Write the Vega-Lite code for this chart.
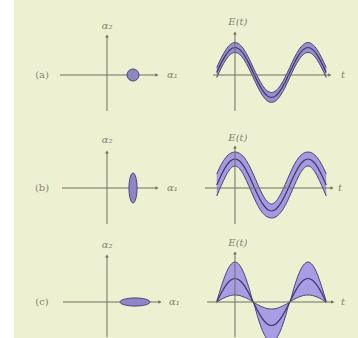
{
"$schema": "https://vega.github.io/schema/vega-lite/v6.json",
"background": "white",
"padding": {"left": 14, "top": 0, "right": 0, "bottom": 0},
"spacing": 0,
"bounds": "full",
"config": {
  "view": {"fill": "#eef0d2", "stroke": null},
  "concat": {"spacing": 0},
  "text": {"font": "DejaVu Serif", "fontStyle": "italic", "fontSize": 10, "color": "#858572"},
  "rule": {"color": "#707062", "strokeWidth": 1},
  "point": {"filled": true, "color": "#707062", "opacity": 1}
},
"data": {"values": [{}]},
"datasets": {
  "states": [
    {"row": "a", "a1": 1.3, "a2": 0},
    {"row": "b", "a1": 1.3, "a2": 0},
    {"row": "c", "a1": 1.4, "a2": 0}
  ],
  "waves": [
    {"row":"a","t":-0.25,"E":0.25,"lo":-0.25,"hi":0.75},
    {"row":"a","t":-0.1875,"E":1.21,"lo":0.71,"hi":1.71},
    {"row":"a","t":-0.125,"E":2.02,"lo":1.52,"hi":2.52},
    {"row":"a","t":-0.0625,"E":2.56,"lo":2.06,"hi":3.06},
    {"row":"a","t":0,"E":2.75,"lo":2.25,"hi":3.25},
    {"row":"a","t":0.0625,"E":2.56,"lo":2.06,"hi":3.06},
    {"row":"a","t":0.125,"E":2.02,"lo":1.52,"hi":2.52},
    {"row":"a","t":0.1875,"E":1.21,"lo":0.71,"hi":1.71},
    {"row":"a","t":0.25,"E":0.25,"lo":-0.25,"hi":0.75},
    {"row":"a","t":0.3125,"E":-0.71,"lo":-1.21,"hi":-0.21},
    {"row":"a","t":0.375,"E":-1.52,"lo":-2.02,"hi":-1.02},
    {"row":"a","t":0.4375,"E":-2.06,"lo":-2.56,"hi":-1.56},
    {"row":"a","t":0.5,"E":-2.25,"lo":-2.75,"hi":-1.75},
    {"row":"a","t":0.5625,"E":-2.06,"lo":-2.56,"hi":-1.56},
    {"row":"a","t":0.625,"E":-1.52,"lo":-2.02,"hi":-1.02},
    {"row":"a","t":0.6875,"E":-0.71,"lo":-1.21,"hi":-0.21},
    {"row":"a","t":0.75,"E":0.25,"lo":-0.25,"hi":0.75},
    {"row":"a","t":0.8125,"E":1.21,"lo":0.71,"hi":1.71},
    {"row":"a","t":0.875,"E":2.02,"lo":1.52,"hi":2.52},
    {"row":"a","t":0.9375,"E":2.56,"lo":2.06,"hi":3.06},
    {"row":"a","t":1,"E":2.75,"lo":2.25,"hi":3.25},
    {"row":"a","t":1.0625,"E":2.56,"lo":2.06,"hi":3.06},
    {"row":"a","t":1.125,"E":2.02,"lo":1.52,"hi":2.52},
    {"row":"a","t":1.1875,"E":1.21,"lo":0.71,"hi":1.71},
    {"row":"a","t":1.25,"E":0.25,"lo":-0.25,"hi":0.75},
    {"row":"b","t":-0.25,"E":0.3,"lo":-0.8,"hi":1.4},
    {"row":"b","t":-0.1875,"E":1.3,"lo":0.25,"hi":2.35},
    {"row":"b","t":-0.125,"E":2.14,"lo":1.22,"hi":3.06},
    {"row":"b","t":-0.0625,"E":2.7,"lo":1.93,"hi":3.47},
    {"row":"b","t":0,"E":2.9,"lo":2.2,"hi":3.6},
    {"row":"b","t":0.0625,"E":2.7,"lo":1.93,"hi":3.47},
    {"row":"b","t":0.125,"E":2.14,"lo":1.22,"hi":3.06},
    {"row":"b","t":0.1875,"E":1.3,"lo":0.25,"hi":2.35},
    {"row":"b","t":0.25,"E":0.3,"lo":-0.8,"hi":1.4},
    {"row":"b","t":0.3125,"E":-0.7,"lo":-1.75,"hi":0.35},
    {"row":"b","t":0.375,"E":-1.54,"lo":-2.46,"hi":-0.62},
    {"row":"b","t":0.4375,"E":-2.1,"lo":-2.87,"hi":-1.33},
    {"row":"b","t":0.5,"E":-2.3,"lo":-3.0,"hi":-1.6},
    {"row":"b","t":0.5625,"E":-2.1,"lo":-2.87,"hi":-1.33},
    {"row":"b","t":0.625,"E":-1.54,"lo":-2.46,"hi":-0.62},
    {"row":"b","t":0.6875,"E":-0.7,"lo":-1.75,"hi":0.35},
    {"row":"b","t":0.75,"E":0.3,"lo":-0.8,"hi":1.4},
    {"row":"b","t":0.8125,"E":1.3,"lo":0.25,"hi":2.35},
    {"row":"b","t":0.875,"E":2.14,"lo":1.22,"hi":3.06},
    {"row":"b","t":0.9375,"E":2.7,"lo":1.93,"hi":3.47},
    {"row":"b","t":1,"E":2.9,"lo":2.2,"hi":3.6},
    {"row":"b","t":1.0625,"E":2.7,"lo":1.93,"hi":3.47},
    {"row":"b","t":1.125,"E":2.14,"lo":1.22,"hi":3.06},
    {"row":"b","t":1.1875,"E":1.3,"lo":0.25,"hi":2.35},
    {"row":"b","t":1.25,"E":0.3,"lo":-0.8,"hi":1.4},
    {"row":"c","t":-0.25,"E":0,"lo":-0.05,"hi":0.05},
    {"row":"c","t":-0.1875,"E":0.9,"lo":0.27,"hi":1.53},
    {"row":"c","t":-0.125,"E":1.66,"lo":0.49,"hi":2.83},
    {"row":"c","t":-0.0625,"E":2.17,"lo":0.65,"hi":3.69},
    {"row":"c","t":0,"E":2.35,"lo":0.7,"hi":4.0},
    {"row":"c","t":0.0625,"E":2.17,"lo":0.65,"hi":3.69},
    {"row":"c","t":0.125,"E":1.66,"lo":0.49,"hi":2.83},
    {"row":"c","t":0.1875,"E":0.9,"lo":0.27,"hi":1.53},
    {"row":"c","t":0.25,"E":0,"lo":-0.05,"hi":0.05},
    {"row":"c","t":0.3125,"E":-0.9,"lo":-1.53,"hi":-0.27},
    {"row":"c","t":0.375,"E":-1.66,"lo":-2.83,"hi":-0.49},
    {"row":"c","t":0.4375,"E":-2.17,"lo":-3.69,"hi":-0.65},
    {"row":"c","t":0.5,"E":-2.35,"lo":-4.0,"hi":-0.7},
    {"row":"c","t":0.5625,"E":-2.17,"lo":-3.69,"hi":-0.65},
    {"row":"c","t":0.625,"E":-1.66,"lo":-2.83,"hi":-0.49},
    {"row":"c","t":0.6875,"E":-0.9,"lo":-1.53,"hi":-0.27},
    {"row":"c","t":0.75,"E":0,"lo":-0.05,"hi":0.05},
    {"row":"c","t":0.8125,"E":0.9,"lo":0.27,"hi":1.53},
    {"row":"c","t":0.875,"E":1.66,"lo":0.49,"hi":2.83},
    {"row":"c","t":0.9375,"E":2.17,"lo":0.65,"hi":3.69},
    {"row":"c","t":1,"E":2.35,"lo":0.7,"hi":4.0},
    {"row":"c","t":1.0625,"E":2.17,"lo":0.65,"hi":3.69},
    {"row":"c","t":1.125,"E":1.66,"lo":0.49,"hi":2.83},
    {"row":"c","t":1.1875,"E":0.9,"lo":0.27,"hi":1.53},
    {"row":"c","t":1.25,"E":0,"lo":-0.05,"hi":0.05}
  ]
},
"vconcat": [
 {"spacing": 0, "bounds": "flush", "hconcat": [
  {"width": 166, "height": 112, "layer": [
   {"mark": "rule", "encoding": {
     "x": {"datum": -2.35, "type": "quantitative", "scale": {"domain": [-4.65, 3.65], "nice": false, "zero": false}, "axis": null},
     "x2": {"datum": 2.5},
     "y": {"datum": 0, "type": "quantitative", "scale": {"domain": [-1.85, 3.75], "nice": false, "zero": false}, "axis": null}}},
   {"mark": "rule", "encoding": {
     "x": {"datum": 0, "type": "quantitative", "scale": {"domain": [-4.65, 3.65], "nice": false, "zero": false}, "axis": null},
     "y": {"datum": 1.95, "type": "quantitative", "scale": {"domain": [-1.85, 3.75], "nice": false, "zero": false}, "axis": null},
     "y2": {"datum": -1.8}}},
   {"mark": {"type": "point", "shape": "triangle-right", "size": 14}, "encoding": {
     "x": {"datum": 2.5, "type": "quantitative", "scale": {"domain": [-4.65, 3.65], "nice": false, "zero": false}, "axis": null},
     "y": {"datum": 0, "type": "quantitative", "scale": {"domain": [-1.85, 3.75], "nice": false, "zero": false}, "axis": null}}},
   {"mark": {"type": "point", "shape": "triangle-up", "size": 14}, "encoding": {
     "x": {"datum": 0, "type": "quantitative", "scale": {"domain": [-4.65, 3.65], "nice": false, "zero": false}, "axis": null},
     "y": {"datum": 1.95, "type": "quantitative", "scale": {"domain": [-1.85, 3.75], "nice": false, "zero": false}, "axis": null}}},
   {"data": {"name": "states"}, "transform": [{"filter": "datum.row === 'a'"}],
    "mark": {"type": "point", "shape": "circle", "size": 144, "filled": true, "fill": "#8c87bd", "stroke": "#4a4578", "strokeWidth": 1},
    "encoding": {
     "x": {"field": "a1", "type": "quantitative", "scale": {"domain": [-4.65, 3.65], "nice": false, "zero": false}, "axis": null},
     "y": {"field": "a2", "type": "quantitative", "scale": {"domain": [-1.85, 3.75], "nice": false, "zero": false}, "axis": null}}},
   {"mark": {"type": "text", "align": "left", "baseline": "middle", "text": "α₁"}, "encoding": {
     "x": {"datum": 3.0, "type": "quantitative", "scale": {"domain": [-4.65, 3.65], "nice": false, "zero": false}, "axis": null},
     "y": {"datum": 0, "type": "quantitative", "scale": {"domain": [-1.85, 3.75], "nice": false, "zero": false}, "axis": null}}},
   {"mark": {"type": "text", "align": "center", "baseline": "middle", "text": "α₂"}, "encoding": {
     "x": {"datum": 0, "type": "quantitative", "scale": {"domain": [-4.65, 3.65], "nice": false, "zero": false}, "axis": null},
     "y": {"datum": 2.45, "type": "quantitative", "scale": {"domain": [-1.85, 3.75], "nice": false, "zero": false}, "axis": null}}},
   {"mark": {"type": "text", "align": "center", "baseline": "middle", "text": "(a)", "fontStyle": "normal"}, "encoding": {
     "x": {"datum": -3.25, "type": "quantitative", "scale": {"domain": [-4.65, 3.65], "nice": false, "zero": false}, "axis": null},
     "y": {"datum": 0, "type": "quantitative", "scale": {"domain": [-1.85, 3.75], "nice": false, "zero": false}, "axis": null}}}
  ]},
  {"width": 178, "height": 112, "layer": [
   {"data": {"name": "waves"}, "transform": [{"filter": "datum.row === 'a'"}],
    "mark": {"type": "area", "interpolate": "monotone", "fill": "#968fcb", "opacity": 1, "clip": true},
    "encoding": {
     "x": {"field": "t", "type": "quantitative", "scale": {"domain": [-0.753, 1.685], "nice": false, "zero": false}, "axis": null},
     "y": {"field": "lo", "type": "quantitative", "scale": {"domain": [-3.7, 7.5], "nice": false, "zero": false}, "axis": null},
     "y2": {"field": "hi"}}},
   {"data": {"name": "waves"}, "transform": [{"filter": "datum.row === 'a'"}],
    "mark": {"type": "line", "interpolate": "monotone", "color": "#4a4578", "strokeWidth": 1, "clip": true},
    "encoding": {
     "x": {"field": "t", "type": "quantitative", "scale": {"domain": [-0.753, 1.685], "nice": false, "zero": false}, "axis": null},
     "y": {"field": "lo", "type": "quantitative", "scale": {"domain": [-3.7, 7.5], "nice": false, "zero": false}, "axis": null}}},
   {"data": {"name": "waves"}, "transform": [{"filter": "datum.row === 'a'"}],
    "mark": {"type": "line", "interpolate": "monotone", "color": "#4a4578", "strokeWidth": 1, "clip": true},
    "encoding": {
     "x": {"field": "t", "type": "quantitative", "scale": {"domain": [-0.753, 1.685], "nice": false, "zero": false}, "axis": null},
     "y": {"field": "hi", "type": "quantitative", "scale": {"domain": [-3.7, 7.5], "nice": false, "zero": false}, "axis": null}}},
   {"data": {"name": "waves"}, "transform": [{"filter": "datum.row === 'a'"}],
    "mark": {"type": "line", "interpolate": "monotone", "color": "#3b3668", "strokeWidth": 1.2, "clip": true},
    "encoding": {
     "x": {"field": "t", "type": "quantitative", "scale": {"domain": [-0.753, 1.685], "nice": false, "zero": false}, "axis": null},
     "y": {"field": "E", "type": "quantitative", "scale": {"domain": [-3.7, 7.5], "nice": false, "zero": false}, "axis": null}}},
   {"mark": "rule", "encoding": {
     "x": {"datum": -0.3, "type": "quantitative", "scale": {"domain": [-0.753, 1.685], "nice": false, "zero": false}, "axis": null},
     "x2": {"datum": 1.3},
     "y": {"datum": 0, "type": "quantitative", "scale": {"domain": [-3.7, 7.5], "nice": false, "zero": false}, "axis": null}}},
   {"mark": "rule", "encoding": {
     "x": {"datum": 0, "type": "quantitative", "scale": {"domain": [-0.753, 1.685], "nice": false, "zero": false}, "axis": null},
     "y": {"datum": 4.2, "type": "quantitative", "scale": {"domain": [-3.7, 7.5], "nice": false, "zero": false}, "axis": null},
     "y2": {"datum": -3.6}}},
   {"mark": {"type": "point", "shape": "triangle-right", "size": 14}, "encoding": {
     "x": {"datum": 1.3, "type": "quantitative", "scale": {"domain": [-0.753, 1.685], "nice": false, "zero": false}, "axis": null},
     "y": {"datum": 0, "type": "quantitative", "scale": {"domain": [-3.7, 7.5], "nice": false, "zero": false}, "axis": null}}},
   {"mark": {"type": "point", "shape": "triangle-up", "size": 14}, "encoding": {
     "x": {"datum": 0, "type": "quantitative", "scale": {"domain": [-0.753, 1.685], "nice": false, "zero": false}, "axis": null},
     "y": {"datum": 4.2, "type": "quantitative", "scale": {"domain": [-3.7, 7.5], "nice": false, "zero": false}, "axis": null}}},
   {"mark": {"type": "text", "align": "center", "baseline": "middle", "text": "E(t)"}, "encoding": {
     "x": {"datum": 0.04, "type": "quantitative", "scale": {"domain": [-0.753, 1.685], "nice": false, "zero": false}, "axis": null},
     "y": {"datum": 5.3, "type": "quantitative", "scale": {"domain": [-3.7, 7.5], "nice": false, "zero": false}, "axis": null}}},
   {"mark": {"type": "text", "align": "center", "baseline": "middle", "text": "t"}, "encoding": {
     "x": {"datum": 1.48, "type": "quantitative", "scale": {"domain": [-0.753, 1.685], "nice": false, "zero": false}, "axis": null},
     "y": {"datum": 0, "type": "quantitative", "scale": {"domain": [-3.7, 7.5], "nice": false, "zero": false}, "axis": null}}}
  ]}
 ]},
 {"spacing": 0, "bounds": "flush", "hconcat": [
  {"width": 166, "height": 113, "layer": [
   {"mark": "rule", "encoding": {
     "x": {"datum": -2.25, "type": "quantitative", "scale": {"domain": [-4.65, 3.65], "nice": false, "zero": false}, "axis": null},
     "x2": {"datum": 2.5},
     "y": {"datum": 0, "type": "quantitative", "scale": {"domain": [-1.85, 3.8], "nice": false, "zero": false}, "axis": null}}},
   {"mark": "rule", "encoding": {
     "x": {"datum": 0, "type": "quantitative", "scale": {"domain": [-4.65, 3.65], "nice": false, "zero": false}, "axis": null},
     "y": {"datum": 1.8, "type": "quantitative", "scale": {"domain": [-1.85, 3.8], "nice": false, "zero": false}, "axis": null},
     "y2": {"datum": -1.8}}},
   {"mark": {"type": "point", "shape": "triangle-right", "size": 14}, "encoding": {
     "x": {"datum": 2.5, "type": "quantitative", "scale": {"domain": [-4.65, 3.65], "nice": false, "zero": false}, "axis": null},
     "y": {"datum": 0, "type": "quantitative", "scale": {"domain": [-1.85, 3.8], "nice": false, "zero": false}, "axis": null}}},
   {"mark": {"type": "point", "shape": "triangle-up", "size": 14}, "encoding": {
     "x": {"datum": 0, "type": "quantitative", "scale": {"domain": [-4.65, 3.65], "nice": false, "zero": false}, "axis": null},
     "y": {"datum": 1.8, "type": "quantitative", "scale": {"domain": [-1.85, 3.8], "nice": false, "zero": false}, "axis": null}}},
   {"data": {"name": "states"}, "transform": [{"filter": "datum.row === 'b'"}],
    "mark": {"type": "point", "shape": "M0,-1A0.27,1 0 1,1 0,1A0.27,1 0 1,1 0,-1Z", "size": 900, "filled": true, "fill": "#8e86c8", "stroke": "#4a4578", "strokeWidth": 1},
    "encoding": {
     "x": {"field": "a1", "type": "quantitative", "scale": {"domain": [-4.65, 3.65], "nice": false, "zero": false}, "axis": null},
     "y": {"field": "a2", "type": "quantitative", "scale": {"domain": [-1.85, 3.8], "nice": false, "zero": false}, "axis": null}}},
   {"mark": {"type": "text", "align": "left", "baseline": "middle", "text": "α₁"}, "encoding": {
     "x": {"datum": 3.0, "type": "quantitative", "scale": {"domain": [-4.65, 3.65], "nice": false, "zero": false}, "axis": null},
     "y": {"datum": 0, "type": "quantitative", "scale": {"domain": [-1.85, 3.8], "nice": false, "zero": false}, "axis": null}}},
   {"mark": {"type": "text", "align": "center", "baseline": "middle", "text": "α₂"}, "encoding": {
     "x": {"datum": 0, "type": "quantitative", "scale": {"domain": [-4.65, 3.65], "nice": false, "zero": false}, "axis": null},
     "y": {"datum": 2.4, "type": "quantitative", "scale": {"domain": [-1.85, 3.8], "nice": false, "zero": false}, "axis": null}}},
   {"mark": {"type": "text", "align": "center", "baseline": "middle", "text": "(b)", "fontStyle": "normal"}, "encoding": {
     "x": {"datum": -3.25, "type": "quantitative", "scale": {"domain": [-4.65, 3.65], "nice": false, "zero": false}, "axis": null},
     "y": {"datum": 0, "type": "quantitative", "scale": {"domain": [-1.85, 3.8], "nice": false, "zero": false}, "axis": null}}}
  ]},
  {"width": 178, "height": 113, "layer": [
   {"data": {"name": "waves"}, "transform": [{"filter": "datum.row === 'b'"}],
    "mark": {"type": "area", "interpolate": "monotone", "fill": "#a599df", "opacity": 1, "clip": true},
    "encoding": {
     "x": {"field": "t", "type": "quantitative", "scale": {"domain": [-0.753, 1.685], "nice": false, "zero": false}, "axis": null},
     "y": {"field": "lo", "type": "quantitative", "scale": {"domain": [-3.7, 7.6], "nice": false, "zero": false}, "axis": null},
     "y2": {"field": "hi"}}},
   {"data": {"name": "waves"}, "transform": [{"filter": "datum.row === 'b'"}],
    "mark": {"type": "line", "interpolate": "monotone", "color": "#4a4578", "strokeWidth": 1, "clip": true},
    "encoding": {
     "x": {"field": "t", "type": "quantitative", "scale": {"domain": [-0.753, 1.685], "nice": false, "zero": false}, "axis": null},
     "y": {"field": "lo", "type": "quantitative", "scale": {"domain": [-3.7, 7.6], "nice": false, "zero": false}, "axis": null}}},
   {"data": {"name": "waves"}, "transform": [{"filter": "datum.row === 'b'"}],
    "mark": {"type": "line", "interpolate": "monotone", "color": "#4a4578", "strokeWidth": 1, "clip": true},
    "encoding": {
     "x": {"field": "t", "type": "quantitative", "scale": {"domain": [-0.753, 1.685], "nice": false, "zero": false}, "axis": null},
     "y": {"field": "hi", "type": "quantitative", "scale": {"domain": [-3.7, 7.6], "nice": false, "zero": false}, "axis": null}}},
   {"data": {"name": "waves"}, "transform": [{"filter": "datum.row === 'b'"}],
    "mark": {"type": "line", "interpolate": "monotone", "color": "#3b3668", "strokeWidth": 1.2, "clip": true},
    "encoding": {
     "x": {"field": "t", "type": "quantitative", "scale": {"domain": [-0.753, 1.685], "nice": false, "zero": false}, "axis": null},
     "y": {"field": "E", "type": "quantitative", "scale": {"domain": [-3.7, 7.6], "nice": false, "zero": false}, "axis": null}}},
   {"mark": "rule", "encoding": {
     "x": {"datum": -0.41, "type": "quantitative", "scale": {"domain": [-0.753, 1.685], "nice": false, "zero": false}, "axis": null},
     "x2": {"datum": 1.33},
     "y": {"datum": 0, "type": "quantitative", "scale": {"domain": [-3.7, 7.6], "nice": false, "zero": false}, "axis": null}}},
   {"mark": "rule", "encoding": {
     "x": {"datum": 0, "type": "quantitative", "scale": {"domain": [-0.753, 1.685], "nice": false, "zero": false}, "axis": null},
     "y": {"datum": 4.1, "type": "quantitative", "scale": {"domain": [-3.7, 7.6], "nice": false, "zero": false}, "axis": null},
     "y2": {"datum": -3.6}}},
   {"mark": {"type": "point", "shape": "triangle-right", "size": 14}, "encoding": {
     "x": {"datum": 1.33, "type": "quantitative", "scale": {"domain": [-0.753, 1.685], "nice": false, "zero": false}, "axis": null},
     "y": {"datum": 0, "type": "quantitative", "scale": {"domain": [-3.7, 7.6], "nice": false, "zero": false}, "axis": null}}},
   {"mark": {"type": "point", "shape": "triangle-up", "size": 14}, "encoding": {
     "x": {"datum": 0, "type": "quantitative", "scale": {"domain": [-0.753, 1.685], "nice": false, "zero": false}, "axis": null},
     "y": {"datum": 4.1, "type": "quantitative", "scale": {"domain": [-3.7, 7.6], "nice": false, "zero": false}, "axis": null}}},
   {"mark": {"type": "text", "align": "center", "baseline": "middle", "text": "E(t)"}, "encoding": {
     "x": {"datum": 0.04, "type": "quantitative", "scale": {"domain": [-0.753, 1.685], "nice": false, "zero": false}, "axis": null},
     "y": {"datum": 5.0, "type": "quantitative", "scale": {"domain": [-3.7, 7.6], "nice": false, "zero": false}, "axis": null}}},
   {"mark": {"type": "text", "align": "center", "baseline": "middle", "text": "t"}, "encoding": {
     "x": {"datum": 1.44, "type": "quantitative", "scale": {"domain": [-0.753, 1.685], "nice": false, "zero": false}, "axis": null},
     "y": {"datum": 0, "type": "quantitative", "scale": {"domain": [-3.7, 7.6], "nice": false, "zero": false}, "axis": null}}}
  ]}
 ]},
 {"spacing": 0, "bounds": "flush", "hconcat": [
  {"width": 166, "height": 113, "layer": [
   {"mark": "rule", "encoding": {
     "x": {"datum": -2.2, "type": "quantitative", "scale": {"domain": [-4.65, 3.65], "nice": false, "zero": false}, "axis": null},
     "x2": {"datum": 2.65},
     "y": {"datum": 0, "type": "quantitative", "scale": {"domain": [-1.8, 3.85], "nice": false, "zero": false}, "axis": null}}},
   {"mark": "rule", "encoding": {
     "x": {"datum": 0, "type": "quantitative", "scale": {"domain": [-4.65, 3.65], "nice": false, "zero": false}, "axis": null},
     "y": {"datum": 2.3, "type": "quantitative", "scale": {"domain": [-1.8, 3.85], "nice": false, "zero": false}, "axis": null},
     "y2": {"datum": -1.75}}},
   {"mark": {"type": "point", "shape": "triangle-right", "size": 14}, "encoding": {
     "x": {"datum": 2.65, "type": "quantitative", "scale": {"domain": [-4.65, 3.65], "nice": false, "zero": false}, "axis": null},
     "y": {"datum": 0, "type": "quantitative", "scale": {"domain": [-1.8, 3.85], "nice": false, "zero": false}, "axis": null}}},
   {"mark": {"type": "point", "shape": "triangle-up", "size": 14}, "encoding": {
     "x": {"datum": 0, "type": "quantitative", "scale": {"domain": [-4.65, 3.65], "nice": false, "zero": false}, "axis": null},
     "y": {"datum": 2.3, "type": "quantitative", "scale": {"domain": [-1.8, 3.85], "nice": false, "zero": false}, "axis": null}}},
   {"data": {"name": "states"}, "transform": [{"filter": "datum.row === 'c'"}],
    "mark": {"type": "point", "shape": "M-1,0A1,0.27 0 1,1 1,0A1,0.27 0 1,1 -1,0Z", "size": 900, "filled": true, "fill": "#8e86c8", "stroke": "#4a4578", "strokeWidth": 1},
    "encoding": {
     "x": {"field": "a1", "type": "quantitative", "scale": {"domain": [-4.65, 3.65], "nice": false, "zero": false}, "axis": null},
     "y": {"field": "a2", "type": "quantitative", "scale": {"domain": [-1.8, 3.85], "nice": false, "zero": false}, "axis": null}}},
   {"mark": {"type": "text", "align": "left", "baseline": "middle", "text": "α₁"}, "encoding": {
     "x": {"datum": 3.1, "type": "quantitative", "scale": {"domain": [-4.65, 3.65], "nice": false, "zero": false}, "axis": null},
     "y": {"datum": 0, "type": "quantitative", "scale": {"domain": [-1.8, 3.85], "nice": false, "zero": false}, "axis": null}}},
   {"mark": {"type": "text", "align": "center", "baseline": "middle", "text": "α₂"}, "encoding": {
     "x": {"datum": 0, "type": "quantitative", "scale": {"domain": [-4.65, 3.65], "nice": false, "zero": false}, "axis": null},
     "y": {"datum": 2.85, "type": "quantitative", "scale": {"domain": [-1.8, 3.85], "nice": false, "zero": false}, "axis": null}}},
   {"mark": {"type": "text", "align": "center", "baseline": "middle", "text": "(c)", "fontStyle": "normal"}, "encoding": {
     "x": {"datum": -3.25, "type": "quantitative", "scale": {"domain": [-4.65, 3.65], "nice": false, "zero": false}, "axis": null},
     "y": {"datum": 0, "type": "quantitative", "scale": {"domain": [-1.8, 3.85], "nice": false, "zero": false}, "axis": null}}}
  ]},
  {"width": 178, "height": 113, "layer": [
   {"data": {"name": "waves"}, "transform": [{"filter": "datum.row === 'c'"}],
    "mark": {"type": "area", "interpolate": "monotone", "fill": "#a89ce3", "opacity": 1, "clip": true},
    "encoding": {
     "x": {"field": "t", "type": "quantitative", "scale": {"domain": [-0.753, 1.685], "nice": false, "zero": false}, "axis": null},
     "y": {"field": "lo", "type": "quantitative", "scale": {"domain": [-3.6, 7.7], "nice": false, "zero": false}, "axis": null},
     "y2": {"field": "hi"}}},
   {"data": {"name": "waves"}, "transform": [{"filter": "datum.row === 'c'"}],
    "mark": {"type": "line", "interpolate": "monotone", "color": "#4a4578", "strokeWidth": 1, "clip": true},
    "encoding": {
     "x": {"field": "t", "type": "quantitative", "scale": {"domain": [-0.753, 1.685], "nice": false, "zero": false}, "axis": null},
     "y": {"field": "lo", "type": "quantitative", "scale": {"domain": [-3.6, 7.7], "nice": false, "zero": false}, "axis": null}}},
   {"data": {"name": "waves"}, "transform": [{"filter": "datum.row === 'c'"}],
    "mark": {"type": "line", "interpolate": "monotone", "color": "#4a4578", "strokeWidth": 1, "clip": true},
    "encoding": {
     "x": {"field": "t", "type": "quantitative", "scale": {"domain": [-0.753, 1.685], "nice": false, "zero": false}, "axis": null},
     "y": {"field": "hi", "type": "quantitative", "scale": {"domain": [-3.6, 7.7], "nice": false, "zero": false}, "axis": null}}},
   {"data": {"name": "waves"}, "transform": [{"filter": "datum.row === 'c'"}],
    "mark": {"type": "line", "interpolate": "monotone", "color": "#3b3668", "strokeWidth": 1.2, "clip": true},
    "encoding": {
     "x": {"field": "t", "type": "quantitative", "scale": {"domain": [-0.753, 1.685], "nice": false, "zero": false}, "axis": null},
     "y": {"field": "E", "type": "quantitative", "scale": {"domain": [-3.6, 7.7], "nice": false, "zero": false}, "axis": null}}},
   {"mark": "rule", "encoding": {
     "x": {"datum": -0.38, "type": "quantitative", "scale": {"domain": [-0.753, 1.685], "nice": false, "zero": false}, "axis": null},
     "x2": {"datum": 1.34},
     "y": {"datum": 0, "type": "quantitative", "scale": {"domain": [-3.6, 7.7], "nice": false, "zero": false}, "axis": null}}},
   {"mark": "rule", "encoding": {
     "x": {"datum": 0, "type": "quantitative", "scale": {"domain": [-0.753, 1.685], "nice": false, "zero": false}, "axis": null},
     "y": {"datum": 4.9, "type": "quantitative", "scale": {"domain": [-3.6, 7.7], "nice": false, "zero": false}, "axis": null},
     "y2": {"datum": -3.5}}},
   {"mark": {"type": "point", "shape": "triangle-right", "size": 14}, "encoding": {
     "x": {"datum": 1.34, "type": "quantitative", "scale": {"domain": [-0.753, 1.685], "nice": false, "zero": false}, "axis": null},
     "y": {"datum": 0, "type": "quantitative", "scale": {"domain": [-3.6, 7.7], "nice": false, "zero": false}, "axis": null}}},
   {"mark": {"type": "point", "shape": "triangle-up", "size": 14}, "encoding": {
     "x": {"datum": 0, "type": "quantitative", "scale": {"domain": [-0.753, 1.685], "nice": false, "zero": false}, "axis": null},
     "y": {"datum": 4.9, "type": "quantitative", "scale": {"domain": [-3.6, 7.7], "nice": false, "zero": false}, "axis": null}}},
   {"mark": {"type": "text", "align": "center", "baseline": "middle", "text": "E(t)"}, "encoding": {
     "x": {"datum": 0.04, "type": "quantitative", "scale": {"domain": [-0.753, 1.685], "nice": false, "zero": false}, "axis": null},
     "y": {"datum": 5.9, "type": "quantitative", "scale": {"domain": [-3.6, 7.7], "nice": false, "zero": false}, "axis": null}}},
   {"mark": {"type": "text", "align": "center", "baseline": "middle", "text": "t"}, "encoding": {
     "x": {"datum": 1.48, "type": "quantitative", "scale": {"domain": [-0.753, 1.685], "nice": false, "zero": false}, "axis": null},
     "y": {"datum": 0, "type": "quantitative", "scale": {"domain": [-3.6, 7.7], "nice": false, "zero": false}, "axis": null}}}
  ]}
 ]}
]
}
